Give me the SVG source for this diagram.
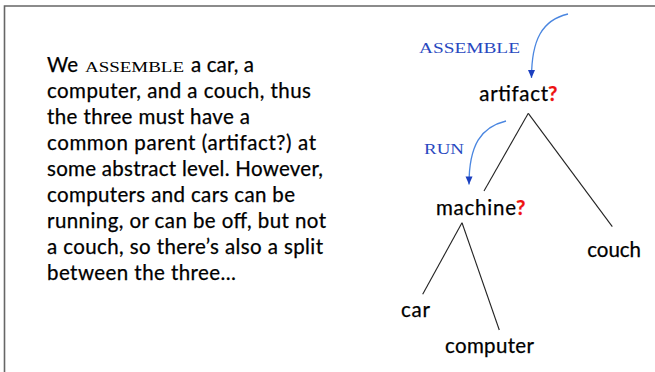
<svg xmlns="http://www.w3.org/2000/svg" width="655" height="372" viewBox="0 0 655 372">
<defs>
<style>
.t{font-family:Lato,"Open Sans","Liberation Sans",sans-serif;font-size:20.5px;fill:#000;stroke:#000;stroke-width:0.25}
.sc{font-family:"Liberation Serif","DejaVu Serif",serif;font-size:15px;fill:#000}
.lbl{font-family:"Liberation Serif","DejaVu Serif",serif;font-size:15.5px;fill:#2848c0}
.q{fill:#ee1111;stroke:#ee1111;font-weight:bold}
.edge{stroke:#222;stroke-width:1.1;fill:none}
.arc{stroke:#4a86e0;stroke-width:1.3;fill:none;marker-end:url(#ah)}
.frame{stroke:#666;stroke-width:1.6;fill:none}
</style>
<marker id="ah" markerUnits="userSpaceOnUse" markerWidth="10" markerHeight="10" viewBox="0 0 10 10" refX="9" refY="5" orient="auto">
<path d="M1,1.5 L9,5 L1,8.5 Z" fill="#1c3fbf"/>
</marker>
</defs>
<rect width="655" height="372" fill="#fff"/>
<path class="frame" d="M4.5,372 V6 H655"/>

<g id="paragraph">
<text class="t" x="47" y="72" textLength="31">We</text>
<text class="sc" x="85" y="72" textLength="99" lengthAdjust="spacingAndGlyphs">ASSEMBLE</text>
<text class="t" x="191" y="72" textLength="63">a car, a</text>
<text class="t" x="47" y="98" textLength="264">computer, and a couch, thus</text>
<text class="t" x="47" y="124" textLength="203">the three must have a</text>
<text class="t" x="47" y="150" textLength="269">common parent (artifact?) at</text>
<text class="t" x="47" y="175.5" textLength="276">some abstract level. However,</text>
<text class="t" x="47" y="201.5" textLength="248">computers and cars can be</text>
<text class="t" x="47" y="227.5" textLength="279">running, or can be off, but not</text>
<text class="t" x="47" y="253.5" textLength="276">a couch, so there’s also a split</text>
<text class="t" x="47" y="279.5" textLength="189">between the three…</text>
</g>

<g id="connectors">
<line class="edge" x1="528.3" y1="113.3" x2="484" y2="191"/>
<line class="edge" x1="528.3" y1="113.3" x2="612.3" y2="226.7"/>
<line class="edge" x1="462" y1="222.7" x2="422.7" y2="294.3"/>
<line class="edge" x1="462" y1="222.7" x2="499.3" y2="330"/>
<path class="arc" d="M568,14 C542,20 531.5,40 531.5,78"/>
<path class="arc" d="M506,121 C481,127 469,145 469,184.5"/>
<text class="lbl" x="419" y="53" textLength="101" lengthAdjust="spacingAndGlyphs">ASSEMBLE</text>
<text class="lbl" x="424" y="154" textLength="40" lengthAdjust="spacingAndGlyphs">RUN</text>
</g>

<g id="artifact">
<text class="t" x="479.3" y="101" textLength="68.7">artifact</text>
<text class="t q" x="548" y="101">?</text>
</g>
<g id="machine">
<text class="t" x="436" y="215" textLength="80">machine</text>
<text class="t q" x="516" y="215">?</text>
</g>
<g id="couch">
<text class="t" x="587.3" y="257.3" textLength="53.7">couch</text>
</g>
<g id="car">
<text class="t" x="401" y="317.3" textLength="29">car</text>
</g>
<g id="computer">
<text class="t" x="445" y="353.3" textLength="89">computer</text>
</g>
</svg>
